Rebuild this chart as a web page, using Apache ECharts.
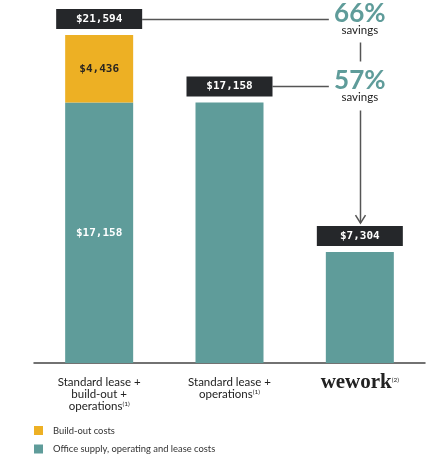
<!DOCTYPE html>
<html>
<head>
<meta charset="utf-8">
<script src="https://cdn.jsdelivr.net/npm/echarts@6/dist/echarts.min.js"></script>
<style>
html,body{margin:0;padding:0;background:#fff;}
#main{width:441px;height:465px;}
</style>
</head>
<body>
<div id="main"></div>
<script>
// data
let categories = ['Standard lease +\nbuild-out +\noperations', 'Standard lease +\noperations', 'wework'];
let footnotes = ['(1)', '(1)', '(2)'];
let officeCosts = [17158, 17158, 7304];
let buildOutCosts = [4436, 0, 0];
let seriesNames = ['Office supply, operating and lease costs', 'Build-out costs'];

let totals = officeCosts.map((v, i) => v + buildOutCosts[i]);

let TEAL = '#5f9c9a', YELLOW = '#edb024', DARK = '#25272a', LINE = '#555';

ChartUtil = function(me) {
    return me = {
        money: function(v) {
            return '$' + v.toLocaleString('en-US');
        },
        legend: function(name, top) {
            return {
                data: [name],
                left: 34, top: top,
                padding: 0,
                itemWidth: 9, itemHeight: 9,
                icon: 'rect',
                selectedMode: false,
                textStyle: {fontFamily: 'Lato', fontSize: 9.4, color: '#333', padding: [0, 0, 0, 5]}
            };
        },
        init: function() {
            let myChart = echarts.init(document.getElementById('main'));
            let option = {
                animation: false,
                grid: {left: 34, right: 16, top: 35, bottom: 102},
                legend: [me.legend(seriesNames[1], 426), me.legend(seriesNames[0], 444.5)],
                xAxis: {
                    type: 'category',
                    data: categories,
                    axisTick: {show: false},
                    axisLine: {lineStyle: {color: '#444', width: 1.5}},
                    axisLabel: {
                        interval: 0,
                        margin: 13,
                        fontFamily: 'Lato',
                        fontSize: 11.5,
                        lineHeight: 12,
                        color: '#222',
                        formatter: function(value, idx) {
                            if (value === 'wework') {
                                return '{logo|wework}{sup|' + footnotes[idx] + '}';
                            }
                            return value + '{sup|' + footnotes[idx] + '}';
                        },
                        rich: {
                            logo: {fontFamily: 'Liberation Serif', fontWeight: 'bold', fontSize: 21, color: '#222', lineHeight: 14},
                            sup: {fontFamily: 'Lato', fontSize: 6.5, color: '#222', verticalAlign: 'top', lineHeight: 8}
                        }
                    }
                },
                yAxis: {type: 'value', show: false, min: 0, max: Math.max.apply(null, totals)},
                series: [{
                    name: seriesNames[0],
                    type: 'bar',
                    stack: 'cost',
                    barWidth: 68,
                    data: officeCosts,
                    itemStyle: {color: TEAL},
                    label: {
                        show: true,
                        position: 'inside',
                        fontFamily: 'DejaVu Sans Mono',
                        fontWeight: 'bold',
                        fontSize: 11,
                        color: '#fff',
                        formatter: function(p) {
                            // only the stacked bar carries an inner label
                            return buildOutCosts[p.dataIndex] > 0 ? me.money(p.value) : '';
                        }
                    }
                }, {
                    name: seriesNames[1],
                    type: 'bar',
                    stack: 'cost',
                    barWidth: 68,
                    data: buildOutCosts,
                    itemStyle: {color: YELLOW},
                    label: {
                        show: true,
                        position: 'inside',
                        fontFamily: 'DejaVu Sans Mono',
                        fontWeight: 'bold',
                        fontSize: 11,
                        color: '#2b2620',
                        formatter: function(p) {
                            return p.value > 0 ? me.money(p.value) : '';
                        }
                    }
                }, {
                    // total boxes above each bar
                    type: 'scatter',
                    data: totals,
                    symbolSize: 0,
                    silent: true,
                    itemStyle: {opacity: 1},
                    label: {
                        show: true,
                        position: 'top',
                        distance: 6,
                        formatter: function(p) { return me.money(p.value); },
                        backgroundColor: DARK,
                        width: 86,
                        height: 20,
                        lineHeight: 20,
                        align: 'center',
                        fontFamily: 'DejaVu Sans Mono',
                        fontWeight: 'bold',
                        fontSize: 11,
                        color: '#fff'
                    }
                }]
            };
            myChart.setOption(option);
            me.annotate(myChart);
        },
        annotate: function(myChart) {
            // savings connectors, placed from the chart's own scale
            let px = function(i, v) { return myChart.convertToPixel({gridIndex: 0}, [i, v]); };
            let last = categories.length - 1;
            let target = px(last, totals[last]);
            let xMid = target[0];
            let els = [];
            let pctY = [];
            [0, 1].forEach(function(i) {
                let p = px(i, totals[i]);
                let y = Math.round(p[1] - 16) + 0.5;
                let pct = Math.round((1 - totals[last] / totals[i]) * 100);
                els.push({type: 'line', shape: {x1: p[0] + 43, y1: y, x2: xMid - 31, y2: y},
                    style: {stroke: LINE, lineWidth: 1.5}});
                els.push({type: 'text', x: xMid, y: y - 6, style: {text: pct + '%', fill: TEAL,
                    font: 'bold 26px Lato', align: 'center', verticalAlign: 'middle'}});
                els.push({type: 'text', x: xMid, y: y + 11, style: {text: 'savings', fill: '#222',
                    font: '11.5px Lato', align: 'center', verticalAlign: 'middle'}});
                pctY.push(y);
            });
            let xl = Math.round(xMid) + 0.5;
            els.push({type: 'line', shape: {x1: xl, y1: pctY[0] + 23, x2: xl, y2: pctY[1] - 25},
                style: {stroke: LINE, lineWidth: 1.5}});
            let tip = target[1] - 29;
            els.push({type: 'line', shape: {x1: xl, y1: pctY[1] + 24, x2: xl, y2: tip},
                style: {stroke: LINE, lineWidth: 1.5}});
            els.push({type: 'polyline', shape: {points: [[xl - 5, tip - 8], [xl, tip], [xl + 5, tip - 8]]},
                style: {stroke: LINE, lineWidth: 1.5, fill: null}});
            myChart.setOption({graphic: els});
        }
    };
}();
ChartUtil.init();
</script>
</body>
</html>
